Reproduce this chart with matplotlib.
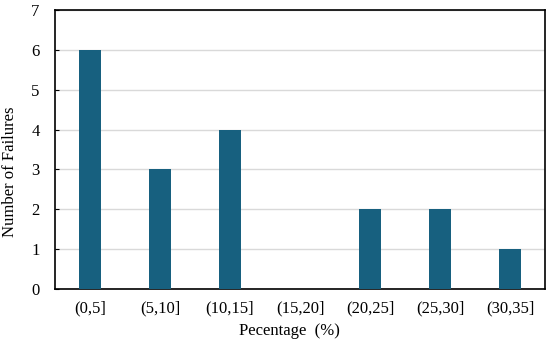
import matplotlib
matplotlib.use("Agg")
import matplotlib.pyplot as plt

categories = ["(0,5]", "(5,10]", "(10,15]", "(15,20]", "(20,25]", "(25,30]", "(30,35]"]
failures = [6, 3, 4, 0, 2, 2, 1]

plt.rcParams['font.family'] = ['Liberation Serif', 'DejaVu Serif']

fig = plt.figure(figsize=(5.5, 3.44), dpi=100)
ax = fig.add_axes([0.1, 0.160, 0.891, 0.811])
x = list(range(len(categories)))
ax.bar(x, failures, width=0.31, color="#17607f", zorder=3)
ax.set_xlim(-0.5, len(categories) - 0.5)
ax.set_ylim(0, 7)
ax.set_yticks(range(0, 8))
ax.set_xticks(x)
ax.set_xticklabels(categories)
ax.yaxis.grid(True, color="#d9d9d9", linewidth=1.0, zorder=0)
ax.tick_params(axis='x', length=0, labelsize=12, pad=8)
ax.tick_params(axis='y', direction='in', length=3, labelsize=12, pad=11)
for s in ax.spines.values():
    s.set_color("black")
    s.set_linewidth(1.2)
ax.set_xlabel("Pecentage  (%)", fontsize=12)
ax.set_ylabel("Number of Failures", fontsize=12)
ax.xaxis.set_label_coords(0.478, -0.123)
ax.yaxis.set_label_coords(-0.075, 0.42)
fig.savefig("out.png", dpi=100)
